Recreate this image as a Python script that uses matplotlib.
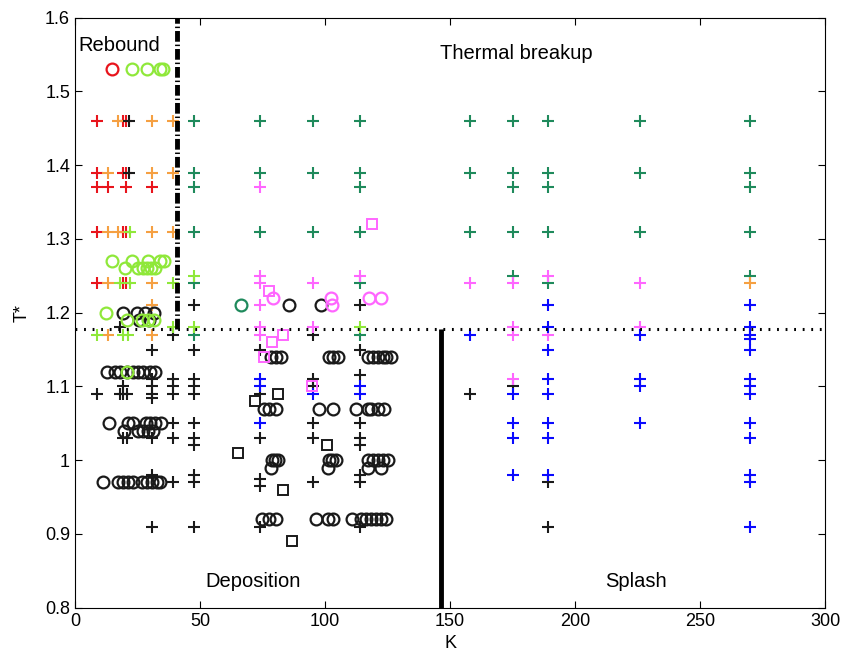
import numpy as np
import matplotlib
matplotlib.use("Agg")
from matplotlib import pyplot as plt

plt.rcParams["font.family"] = ["Liberation Sans", "DejaVu Sans"]

# ---- data (K, T*) ----
teal_plus_k = [47.5, 47.5, 47.5, 47.5, 47.5, 47.5, 74, 74, 74, 95, 95, 95,
               114, 114, 114, 114, 114, 114, 158, 158, 158,
               175, 175, 175, 175, 175, 189, 189, 189, 189, 189,
               226, 226, 226, 270, 270, 270, 270, 270]
teal_plus_t = [1.46, 1.39, 1.37, 1.31, 1.24, 1.17, 1.46, 1.39, 1.31, 1.46, 1.39, 1.31,
               1.46, 1.39, 1.37, 1.31, 1.24, 1.17, 1.46, 1.39, 1.31,
               1.46, 1.39, 1.37, 1.31, 1.25, 1.46, 1.39, 1.37, 1.31, 1.24,
               1.46, 1.39, 1.31, 1.46, 1.39, 1.37, 1.31, 1.25]

red_plus_k = [8.7, 8.7, 8.7, 8.7, 8.7, 13.4, 19.4, 19.4, 19.4, 19.4,
              20.3, 20.3, 20.3, 20.3, 20.3, 30.8]
red_plus_t = [1.46, 1.39, 1.37, 1.31, 1.24, 1.37, 1.46, 1.39, 1.31, 1.24,
              1.46, 1.39, 1.37, 1.31, 1.24, 1.37]

orange_plus_k = [13.4, 13.4, 13.4, 13.4, 17.1, 17.1, 30.8, 30.8, 30.8, 30.8, 30.8, 30.8,
                 39.2, 39.2, 39.2, 270]
orange_plus_t = [1.39, 1.31, 1.24, 1.17, 1.46, 1.31, 1.46, 1.39, 1.31, 1.24, 1.21, 1.17,
                 1.46, 1.39, 1.31, 1.24]

lime_plus_k = [8.7, 18.0, 19.4, 21.1, 22.1, 22.1, 39.2, 39.2, 47.5, 47.5, 114]
lime_plus_t = [1.17, 1.24, 1.17, 1.17, 1.31, 1.24, 1.24, 1.18, 1.25, 1.18, 1.18]

magenta_plus_k = [74, 74, 74, 74, 74, 74, 95, 95, 114, 158,
                  175, 175, 175, 175, 189, 189, 226, 226]
magenta_plus_t = [1.37, 1.25, 1.24, 1.21, 1.18, 1.17, 1.24, 1.18, 1.25, 1.24,
                  1.24, 1.18, 1.17, 1.11, 1.25, 1.17, 1.24, 1.18]

blue_plus_k = [74, 74, 74, 95, 114, 114, 158,
               175, 175, 175, 175,
               189, 189, 189, 189, 189, 189, 189, 189,
               226, 226, 226, 226,
               270, 270, 270, 270, 270, 270, 270, 270, 270, 270, 270, 270, 270]
blue_plus_t = [1.11, 1.10, 1.05, 1.09, 1.10, 1.09, 1.17,
               1.09, 1.05, 1.03, 0.98,
               1.21, 1.18, 1.15, 1.11, 1.09, 1.05, 1.03, 0.98,
               1.17, 1.11, 1.10, 1.05,
               1.21, 1.18, 1.17, 1.165, 1.15, 1.11, 1.10, 1.09, 1.05, 1.03, 0.98, 0.97, 0.91]

black_plus_k = [21.7, 21.7, 17.9, 17.9, 8.7, 19.4, 19.4, 19.4, 20.7, 20.7,
                30.8, 30.8, 30.8, 30.8, 30.8, 30.8, 30.8, 30.8,
                39.2, 39.2, 39.2, 39.2, 39.2, 39.2, 39.2,
                47.5, 47.5, 47.5, 47.5, 47.5, 47.5, 47.5, 47.5, 47.5, 47.5, 47.5,
                74, 74, 74, 74, 74, 74,
                95, 95, 95, 95, 95, 95,
                114, 114, 114, 114, 114, 114, 114, 114, 114,
                158, 175, 189, 189]
black_plus_t = [1.46, 1.39, 1.18, 1.09, 1.09, 1.10, 1.09, 1.03, 1.09, 1.03,
                1.15, 1.11, 1.10, 1.09, 1.085, 1.03, 0.98, 0.91,
                1.17, 1.11, 1.10, 1.09, 1.05, 1.03, 0.97,
                1.21, 1.15, 1.11, 1.10, 1.09, 1.05, 1.03, 1.02, 0.98, 0.97, 0.91,
                1.15, 1.09, 1.03, 0.975, 0.965, 0.91,
                1.17, 1.11, 1.10, 1.05, 1.03, 0.97,
                1.21, 1.15, 1.115, 1.05, 1.03, 1.02, 0.98, 0.97, 0.91,
                1.09, 1.10, 0.97, 0.91]

black_circ_k = [85.7, 98.4,
                19.4, 24.8, 28.1, 31.5, 25.5, 29.5,
                78.3, 80.3, 82.3, 101.7, 103.1, 105.1, 117.1, 119.1, 121.1, 123.1, 124.5, 126.5,
                12.7, 16.1, 18.1, 20.8, 23.4, 25.4, 27.4, 30.1, 32.1,
                75.6, 77.6, 80.3, 97.7, 103.1, 112.4, 117.1, 118.5, 121.2, 123.6,
                13.7, 21.4, 23.4, 28.4, 30.1, 32.1, 34.5,
                19.8, 25.4, 27.4, 29.4, 31.4,
                78.7, 80.0, 81.1, 101.6, 102.9, 104.3, 117.1, 119.1, 121.1, 123.1, 125.1,
                78.4, 101.2, 117.1, 122.2,
                11.4, 17.1, 19.4, 21.4, 23.4, 26.7, 28.7, 30.8, 32.8, 34.1,
                74.9, 77.6, 80.3, 96.3, 101.0, 103.0, 110.7, 114.5, 116.5, 118.5, 120.5, 122.5, 124.5]
black_circ_t = [1.21, 1.21,
                1.20, 1.20, 1.20, 1.20, 1.19, 1.19,
                1.14, 1.14, 1.14, 1.14, 1.14, 1.14, 1.14, 1.14, 1.14, 1.14, 1.14, 1.14,
                1.12, 1.12, 1.12, 1.12, 1.12, 1.12, 1.12, 1.12, 1.12,
                1.07, 1.07, 1.07, 1.07, 1.07, 1.07, 1.07, 1.07, 1.07, 1.07,
                1.05, 1.05, 1.05, 1.05, 1.05, 1.05, 1.05,
                1.04, 1.04, 1.04, 1.04, 1.04,
                1.00, 1.00, 1.00, 1.00, 1.00, 1.00, 1.00, 1.00, 1.00, 1.00, 1.00,
                0.99, 0.99, 0.99, 0.99,
                0.97, 0.97, 0.97, 0.97, 0.97, 0.97, 0.97, 0.97, 0.97, 0.97,
                0.92, 0.92, 0.92, 0.92, 0.92, 0.92, 0.92, 0.92, 0.92, 0.92, 0.92, 0.92, 0.92]

lime_circ_k = [22.8, 28.8, 34.1, 35.1,
               15.0, 23.0, 29.4, 34.1, 35.5,
               20.1, 25.4, 27.4, 28.7, 30.5, 32.1,
               12.3, 20.8, 26.8, 29.2, 31.5, 20.8]
lime_circ_t = [1.53, 1.53, 1.53, 1.53,
               1.27, 1.27, 1.27, 1.27, 1.27,
               1.26, 1.26, 1.26, 1.26, 1.26, 1.26,
               1.20, 1.19, 1.19, 1.19, 1.19, 1.12]

red_circ_k = [14.7]
red_circ_t = [1.53]
teal_circ_k = [66.3]
teal_circ_t = [1.21]

magenta_circ_k = [79.4, 102.4, 102.8, 117.4, 122.5]
magenta_circ_t = [1.22, 1.22, 1.21, 1.22, 1.22]

magenta_sq_k = [118.7, 77.6, 83.4, 79.0, 75.6, 94.8]
magenta_sq_t = [1.32, 1.23, 1.17, 1.16, 1.14, 1.10]

black_sq_k = [81.2, 71.9, 65.2, 100.8, 83.3, 86.6]
black_sq_t = [1.09, 1.08, 1.01, 1.02, 0.96, 0.89]

# regime boundaries
t_crit = 1.178
k_rebound = 41
k_splash = 146.5

RED = "#e8141c"
ORANGE = "#f5a042"
LIME = "#8fe83a"
TEAL = "#1f8a5c"
MAGENTA = "#ff66ff"
BLUE = "#0a0aff"
BLACK = "#1a1a1a"

fig = plt.figure(figsize=(8.42, 6.57), dpi=100)
ax = fig.add_axes([0.089, 0.075, 0.891, 0.898])

def plus(k, t, c):
    ax.plot(k, t, "+", color=c, ms=8, mew=1.5, ls="none")

def circ(k, t, c):
    ax.plot(k, t, "o", mfc="none", mec=c, ms=8.5, mew=1.6, ls="none")

def square(k, t, c):
    ax.plot(k, t, "s", mfc="none", mec=c, ms=6.5, mew=1.4, ls="none")

plus(teal_plus_k, teal_plus_t, TEAL)
plus(red_plus_k, red_plus_t, RED)
plus(orange_plus_k, orange_plus_t, ORANGE)
plus(black_plus_k, black_plus_t, BLACK)
plus(lime_plus_k, lime_plus_t, LIME)
plus(magenta_plus_k, magenta_plus_t, MAGENTA)
plus(blue_plus_k, blue_plus_t, BLUE)
circ(black_circ_k, black_circ_t, BLACK)
circ(lime_circ_k, lime_circ_t, LIME)
circ(red_circ_k, red_circ_t, RED)
circ(teal_circ_k, teal_circ_t, TEAL)
circ(magenta_circ_k, magenta_circ_t, MAGENTA)
square(magenta_sq_k, magenta_sq_t, MAGENTA)
square(black_sq_k, black_sq_t, BLACK)

# boundaries
ax.plot([0, 300], [t_crit, t_crit], color="black", lw=2.2, ls=(0, (0.6, 2.2)))
ax.plot([k_rebound, k_rebound], [t_crit, 1.6], color="black", lw=3.5,
        ls=(0, (2.2, 0.6, 0.3, 0.6)))
ax.plot([k_splash, k_splash], [0.8, t_crit], color="black", lw=3.5, solid_capstyle="butt")

fs = 14.5
ax.text(1.2, 1.562, "Rebound", fontsize=fs, ha="left", va="center")
ax.text(146, 1.551, "Thermal breakup", fontsize=fs, ha="left", va="center")
ax.text(52, 0.836, "Deposition", fontsize=fs, ha="left", va="center")
ax.text(212, 0.835, "Splash", fontsize=fs, ha="left", va="center")

ax.set_xlim(0, 300)
ax.set_ylim(0.8, 1.6)
ax.set_xticks([0, 50, 100, 150, 200, 250, 300])
yt = [0.8, 0.9, 1.0, 1.1, 1.2, 1.3, 1.4, 1.5, 1.6]
ax.set_yticks(yt)
ax.set_yticklabels(["0.8", "0.9", "1", "1.1", "1.2", "1.3", "1.4", "1.5", "1.6"])
ax.tick_params(direction="in", top=True, right=True, labelsize=13, length=5, width=0.8)
ax.set_xlabel("K", fontsize=13, labelpad=4)
ax.set_ylabel("T*", fontsize=13, labelpad=10)
for s in ax.spines.values():
    s.set_linewidth(0.8)

fig.savefig("out.png", dpi=100)
